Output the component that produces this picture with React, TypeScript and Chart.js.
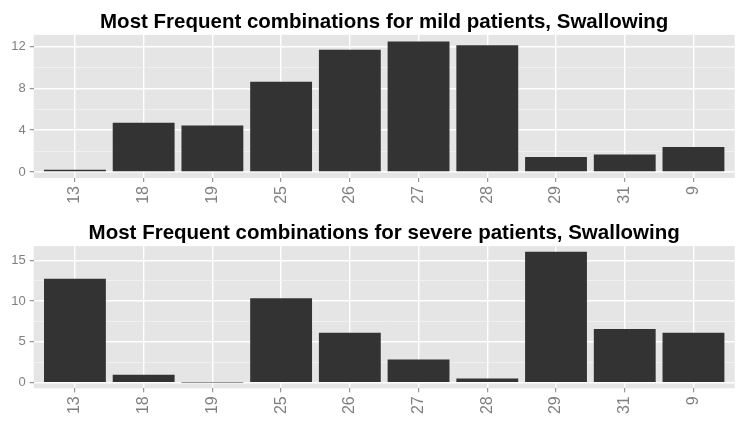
import React, { useEffect, useRef } from "react";
import { Chart, registerables } from "chart.js";

Chart.register(...registerables);

const categories = ["13", "18", "19", "25", "26", "27", "28", "29", "31", "9"];
const mildValues = [0.2, 4.7, 4.44, 8.63, 11.69, 12.48, 12.13, 1.42, 1.67, 2.39];
const severeValues = [12.74, 0.97, 0.03, 10.36, 6.13, 2.86, 0.53, 16.05, 6.58, 6.13];

const mildTitle = "Most Frequent combinations for mild patients, Swallowing";
const severeTitle = "Most Frequent combinations for severe patients, Swallowing";

const mildYTicks = [0, 2, 4, 6, 8, 10, 12];
const mildYMajor = [0, 4, 8, 12];
const severeYTicks = [0, 2.5, 5, 7.5, 10, 12.5, 15];
const severeYMajor = [0, 5, 10, 15];

const mildYRange = [-0.58, 13.12];
const severeYRange = [-0.68, 16.73];

const FONT = '"Liberation Sans", Arial, Helvetica, sans-serif';
const GREY = "#7F7F7F";

const bgPlugin = {
  id: "panelBg",
  beforeDraw(chart: any) {
    const { ctx, chartArea } = chart;
    if (!chartArea) return;
    ctx.save();
    ctx.fillStyle = "#E5E5E5";
    ctx.fillRect(chartArea.left, chartArea.top, chartArea.right - chartArea.left, chartArea.bottom - chartArea.top);
    ctx.restore();
  },
};

type PanelProps = {
  title: string;
  values: number[];
  yTicks: number[];
  yMajor: number[];
  yRange: number[];
  height: number;
  titleTop: number;
  titleBottom: number;
  xAxisHeight: number;
};

function Panel(p: PanelProps) {
  const ref = useRef<HTMLCanvasElement | null>(null);
  useEffect(() => {
    if (!ref.current) return;
    const chart = new Chart(ref.current, {
      type: "bar",
      data: {
        datasets: [
          {
            data: p.values.map((v, i) => ({ x: i, y: v })),
            backgroundColor: "#333333",
            borderWidth: 0,
            barPercentage: 0.9,
            categoryPercentage: 1.0,
          },
        ],
      },
      options: {
        responsive: false,
        animation: false,
        devicePixelRatio: 1,
        layout: { padding: { left: 0, right: 11.3, top: 0, bottom: 0 } },
        plugins: {
          legend: { display: false },
          tooltip: { enabled: false },
          title: {
            display: true,
            text: p.title,
            fullSize: false,
            color: "#000000",
            font: { family: FONT, size: 20.5, weight: "bold", lineHeight: 1.2 },
            padding: { top: p.titleTop, bottom: p.titleBottom },
          },
        },
        scales: {
          x: {
            type: "linear",
            min: -0.6,
            max: categories.length - 1 + 0.6,
            bounds: "data",
            offset: false,
            afterBuildTicks: (scale: any) => {
              scale.ticks = categories.map((_, i) => ({ value: i }));
            },
            afterFit: (scale: any) => {
              scale.height = p.xAxisHeight;
            },
            border: { display: false },
            grid: {
              offset: false,
              color: "#FFFFFF",
              lineWidth: 1.4,
              tickColor: GREY,
              tickLength: 4,
              tickWidth: 1,
              drawTicks: true,
            },
            ticks: {
              autoSkip: false,
              maxRotation: 90,
              minRotation: 90,
              padding: 4,
              color: GREY,
              font: { family: FONT, size: 16 },
              callback: (v: any) => categories[Math.round(Number(v))] ?? "",
            },
          },
          y: {
            type: "linear",
            min: p.yRange[0],
            max: p.yRange[1],
            bounds: "data",
            afterBuildTicks: (scale: any) => {
              scale.ticks = p.yTicks.map((v) => ({ value: v }));
            },
            afterFit: (scale: any) => {
              scale.width = 33.7;
            },
            border: { display: false },
            grid: {
              color: (ctx: any) => (ctx.tick && p.yMajor.includes(ctx.tick.value) ? "#FFFFFF" : "#F2F2F2"),
              lineWidth: (ctx: any) => (ctx.tick && p.yMajor.includes(ctx.tick.value) ? 1.4 : 0.8),
              tickColor: (ctx: any) => (ctx.tick && p.yMajor.includes(ctx.tick.value) ? GREY : "rgba(0,0,0,0)"),
              tickLength: 4,
              tickWidth: 1,
            },
            ticks: {
              padding: 4,
              color: GREY,
              font: { family: FONT, size: 13 },
              callback: (v: any) => (p.yMajor.includes(Number(v)) ? String(v) : ""),
            },
          },
        },
      },
      plugins: [bgPlugin],
    } as any);
    return () => chart.destroy();
  }, []);
  return <canvas ref={ref} width={746} height={p.height} style={{ display: "block", width: 746, height: p.height }} />;
}

export default function App() {
  return (
    <div style={{ position: "absolute", left: 0, top: 0, width: 746, height: 429, background: "#FFFFFF" }}>
      <Panel
        title={mildTitle}
        values={mildValues}
        yTicks={mildYTicks}
        yMajor={mildYMajor}
        yRange={mildYRange}
        height={215}
        titleTop={10.3}
        titleBottom={0}
        xAxisHeight={37}
      />
      <Panel
        title={severeTitle}
        values={severeValues}
        yTicks={severeYTicks}
        yMajor={severeYMajor}
        yRange={severeYRange}
        height={214}
        titleTop={5.6}
        titleBottom={0.9}
        xAxisHeight={40.7}
      />
    </div>
  );
}
